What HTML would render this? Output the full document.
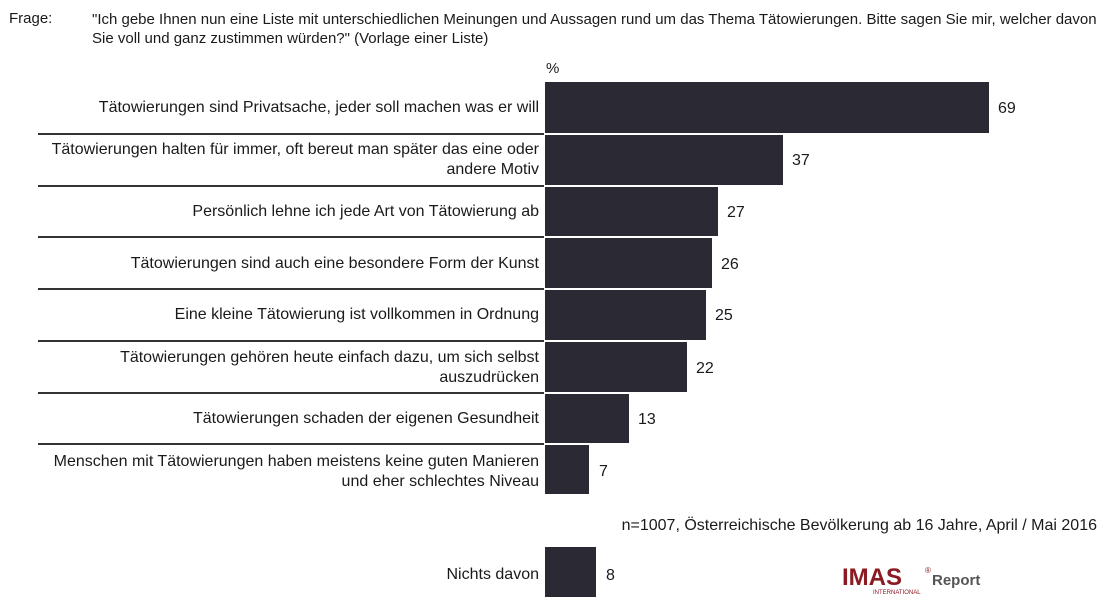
<!DOCTYPE html>
<html><head><meta charset="utf-8"><style>
body{margin:0;width:1107px;height:616px;background:#fff;position:relative;overflow:hidden;font-family:"Liberation Sans",Arial,sans-serif;color:#1a1a1a;font-size:16px}
.a{position:absolute}
.bar{position:absolute;left:545px;background:#2b2933}
.lbl{position:absolute;right:568px;text-align:right;line-height:20px;white-space:nowrap}
.val{position:absolute;font-size:16px}
.ln{position:absolute;left:38px;width:506px;height:2px;background:#333}
</style></head><body>
<div class="a" style="left:9px;top:10px;font-size:15px">Frage:</div>
<div class="a" style="left:92px;top:10px;width:1005px;line-height:19px;font-size:15px">"Ich gebe Ihnen nun eine Liste mit unterschiedlichen Meinungen und Aussagen rund um das Thema Tätowierungen. Bitte sagen Sie mir, welcher davon Sie voll und ganz zustimmen würden?" (Vorlage einer Liste)</div>
<div class="a" style="left:546px;top:60px;font-size:15px">%</div>

<div class="bar" style="top:82px;height:51px;width:444px"></div>
<div class="bar" style="top:135px;height:50px;width:238px"></div>
<div class="bar" style="top:187px;height:49px;width:173px"></div>
<div class="bar" style="top:238px;height:50px;width:167px"></div>
<div class="bar" style="top:290px;height:50px;width:161px"></div>
<div class="bar" style="top:342px;height:50px;width:142px"></div>
<div class="bar" style="top:394px;height:49px;width:84px"></div>
<div class="bar" style="top:445px;height:49px;width:44px"></div>
<div class="bar" style="top:547px;height:50px;width:51px"></div>

<div class="ln" style="top:133px"></div>
<div class="ln" style="top:185px"></div>
<div class="ln" style="top:236px"></div>
<div class="ln" style="top:288px"></div>
<div class="ln" style="top:340px"></div>
<div class="ln" style="top:392px"></div>
<div class="ln" style="top:443px"></div>

<div class="lbl" style="top:98px">Tätowierungen sind Privatsache, jeder soll machen was er will</div>
<div class="lbl" style="top:140px">Tätowierungen halten für immer, oft bereut man später das eine oder<br>andere Motiv</div>
<div class="lbl" style="top:202px">Persönlich lehne ich jede Art von Tätowierung ab</div>
<div class="lbl" style="top:254px">Tätowierungen sind auch eine besondere Form der Kunst</div>
<div class="lbl" style="top:305px">Eine kleine Tätowierung ist vollkommen in Ordnung</div>
<div class="lbl" style="top:348px">Tätowierungen gehören heute einfach dazu, um sich selbst<br>auszudrücken</div>
<div class="lbl" style="top:409px">Tätowierungen schaden der eigenen Gesundheit</div>
<div class="lbl" style="top:452px">Menschen mit Tätowierungen haben meistens keine guten Manieren<br>und eher schlechtes Niveau</div>
<div class="lbl" style="top:565px">Nichts davon</div>

<div class="val" style="left:998px;top:100px">69</div>
<div class="val" style="left:792px;top:152px">37</div>
<div class="val" style="left:727px;top:204px">27</div>
<div class="val" style="left:721px;top:256px">26</div>
<div class="val" style="left:715px;top:307px">25</div>
<div class="val" style="left:696px;top:360px">22</div>
<div class="val" style="left:638px;top:411px">13</div>
<div class="val" style="left:599px;top:463px">7</div>
<div class="val" style="left:606px;top:567px">8</div>

<div class="a" style="right:10px;top:517px;font-size:16px;white-space:nowrap">n=1007, Österreichische Bevölkerung ab 16 Jahre, April / Mai 2016</div>
<div class="a" style="left:842px;top:564px;font-size:24px;font-weight:bold;color:#8b1a22">IMAS</div>
<div class="a" style="left:925px;top:566px;font-size:8px;color:#8b1a22">®</div>
<div class="a" style="left:932px;top:572px;font-size:15px;font-weight:bold;color:#555">Report</div>
<div class="a" style="left:873px;top:590px;font-size:6px;color:#8b1a22">INTERNATIONAL</div>
</body></html>
